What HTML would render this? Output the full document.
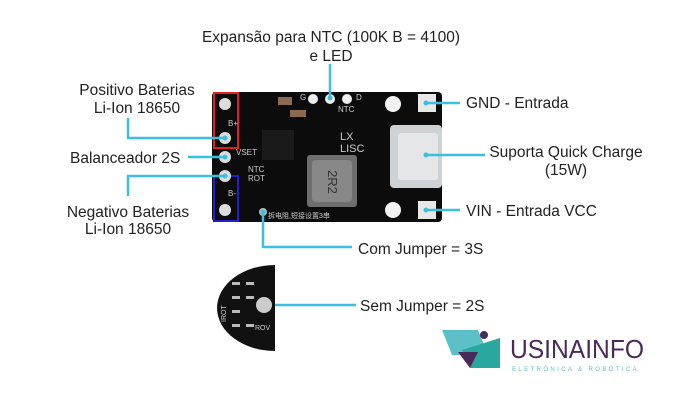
<!DOCTYPE html>
<html><head><meta charset="utf-8"><style>
body{margin:0;background:#fff;}
svg{display:block;font-family:"Liberation Sans",sans-serif;}
</style></head><body>
<svg width="700" height="400" viewBox="0 0 700 400">
<rect width="700" height="400" fill="#fff"/>
<!-- board -->
<rect x="212" y="92" width="230" height="130" rx="4" fill="#0c0c0c"/>
<rect x="214" y="93" width="24" height="55" fill="none" stroke="#e02020" stroke-width="2"/>
<rect x="214" y="176" width="24" height="45" fill="none" stroke="#2020d0" stroke-width="2"/>
<circle cx="225" cy="104" r="6" fill="#ddd"/><circle cx="225" cy="138" r="6" fill="#ddd"/>
<circle cx="225" cy="157" r="6" fill="#ddd"/><circle cx="225" cy="176" r="6" fill="#ddd"/>
<circle cx="225" cy="210" r="6" fill="#ddd"/>
<circle cx="313" cy="99" r="5" fill="#eee"/><circle cx="330" cy="99" r="5" fill="#eee"/><circle cx="347" cy="99" r="5" fill="#eee"/>
<circle cx="393" cy="104" r="8" fill="#f2f2f2"/><circle cx="393" cy="210" r="8" fill="#f2f2f2"/>
<rect x="418" y="94" width="18" height="18" fill="#e8e8e8"/><rect x="418" y="201" width="18" height="18" fill="#e8e8e8"/>
<rect x="390" y="125" width="52" height="63" rx="4" fill="#cfd2d4"/>
<rect x="398" y="133" width="40" height="47" rx="3" fill="#e4e6e8"/>
<rect x="307" y="155" width="50" height="52" rx="3" fill="#6e6e6e"/>
<rect x="312" y="160" width="40" height="42" rx="4" fill="#888"/>
<text x="332" y="186" font-size="13" fill="#333" text-anchor="middle" transform="rotate(90 332 182)">2R2</text>
<rect x="262" y="130" width="32" height="30" fill="#1a1a1a"/>
<rect x="278" y="97" width="14" height="8" fill="#8a6a50"/>
<rect x="290" y="110" width="16" height="7" fill="#8a6a50"/>
<g fill="#ccc" font-size="8"><text x="228" y="126">B+</text><text x="228" y="196">B-</text><text x="236" y="155">VSET</text>
<text x="248" y="172">NTC</text><text x="248" y="181">ROT</text><text x="338" y="112">NTC</text><text x="300" y="100">G</text><text x="356" y="100">D</text>
<text x="340" y="140" font-size="11">LX</text><text x="340" y="152" font-size="11">LISC</text>
<text x="268" y="218" font-size="7">拆电阻,短接设置3串</text></g>
<circle cx="263" cy="212" r="4" fill="#bbb"/>
<!-- connectors -->
<g stroke="#3bbfe0" stroke-width="2.5" fill="none">
<path d="M330 64V98"/>
<path d="M128 118V138H225"/>
<path d="M188 157H225"/>
<path d="M225 176H128V196"/>
<path d="M426 103H460"/>
<path d="M426 155H485"/>
<path d="M426 210H460"/>
<path d="M263 212V247H352"/>
<path d="M272 305H356"/>
</g>
<g fill="#3bbfe0"><circle cx="330" cy="98" r="2.5"/><circle cx="225" cy="138" r="2.5"/><circle cx="225" cy="157" r="2.5"/><circle cx="225" cy="176" r="2.5"/><circle cx="426" cy="103" r="2.5"/><circle cx="426" cy="155" r="2.5"/><circle cx="426" cy="210" r="2.5"/><circle cx="263" cy="212" r="2.5"/></g>
<!-- half circle zoom -->
<path d="M275 265 A58 43 0 0 0 275 351 Z" fill="#111"/>
<circle cx="264" cy="305" r="8" fill="#ccc"/>
<g fill="#bbb"><rect x="232" y="282" width="8" height="3"/><rect x="232" y="296" width="8" height="3"/><rect x="232" y="310" width="8" height="3"/><rect x="232" y="324" width="8" height="3"/><rect x="246" y="282" width="8" height="3"/><rect x="246" y="296" width="8" height="3"/><rect x="246" y="324" width="8" height="3"/></g>
<g fill="#ccc" font-size="7"><text x="226" y="322" transform="rotate(-90 226 322)">IROT</text><text x="255" y="330">ROV</text></g>
<!-- labels -->
<g font-size="15.5" fill="#222">
<text x="331" y="42" text-anchor="middle">Expansão para NTC (100K B = 4100)</text>
<text x="331" y="61" text-anchor="middle">e LED</text>
<text x="137" y="95" text-anchor="middle">Positivo Baterias</text>
<text x="137" y="113" text-anchor="middle">Li-Ion 18650</text>
<text x="70" y="163">Balanceador 2S</text>
<text x="128" y="217" text-anchor="middle">Negativo Baterias</text>
<text x="128" y="234" text-anchor="middle">Li-Ion 18650</text>
<text x="466" y="108">GND - Entrada</text>
<text x="566" y="157" text-anchor="middle">Suporta Quick Charge</text>
<text x="566" y="175" text-anchor="middle">(15W)</text>
<text x="466" y="216">VIN - Entrada VCC</text>
<text x="358" y="254">Com Jumper = 3S</text>
<text x="360" y="311">Sem Jumper = 2S</text>
</g>
<!-- logo -->
<polygon points="442,330 478,330 488,355 452,355" fill="#5bc0c8"/>
<polygon points="462,350 500,338 500,368 470,368" fill="#2aa8a0"/>
<polygon points="458,352 478,352 470,368" fill="#4a2a5a"/>
<circle cx="484" cy="335" r="4" fill="#4a2a5a"/>
<text x="510" y="358" font-size="26" fill="#4a2a5a" textLength="134" lengthAdjust="spacingAndGlyphs">USINAINFO</text>
<text x="512" y="371" font-size="6" fill="#5bc0c8" letter-spacing="2.4">ELETRÔNICA &amp; ROBÓTICA</text>
</svg>
</body></html>
